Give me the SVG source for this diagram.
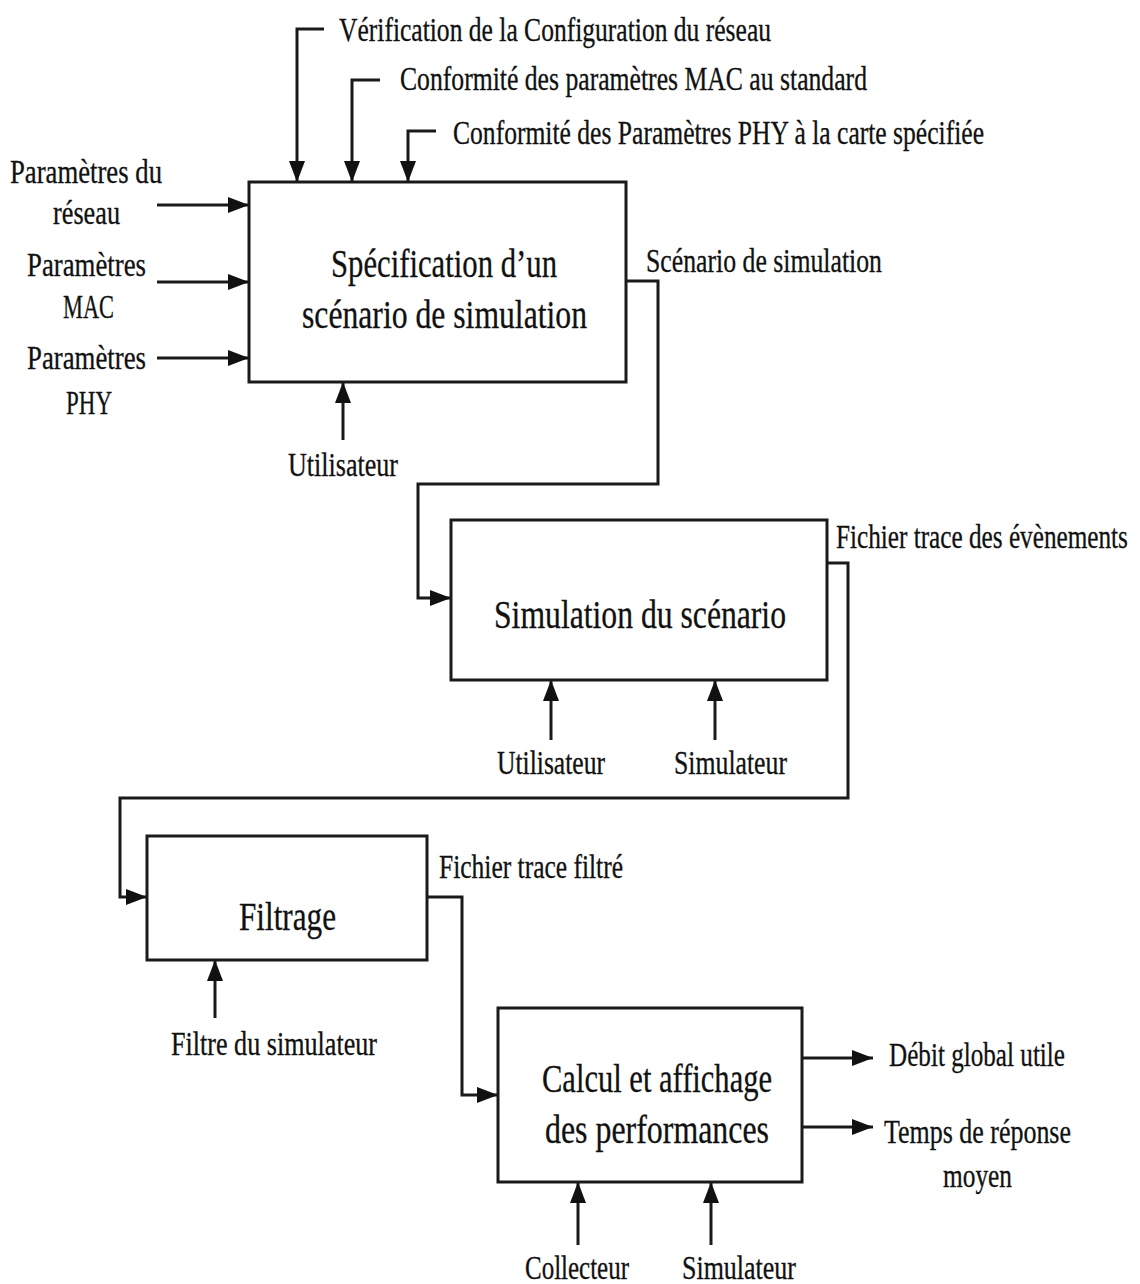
<svg xmlns="http://www.w3.org/2000/svg" width="1140" height="1284" viewBox="0 0 1140 1284">
  <style>
    .box { fill: #ffffff; stroke: #1a1a1a; stroke-width: 3; }
    .wire { fill: none; stroke: #1a1a1a; stroke-width: 3; }
    .lbl { font-family: "Liberation Serif", "DejaVu Serif", serif; font-size: 33px; fill: #111; stroke: #111; stroke-width: 0.3; }
    .ttl { font-family: "Liberation Serif", "DejaVu Serif", serif; font-size: 40px; fill: #111; stroke: #111; stroke-width: 0.3; }
  </style>
  <defs>
    <marker id="arrow" viewBox="-22 -10 24 20" markerWidth="24" markerHeight="20" refX="0" refY="0" orient="auto" markerUnits="userSpaceOnUse" overflow="visible">
      <path d="M-21,-8 L0,0 L-21,8 Z" fill="#111"/>
    </marker>
  </defs>
  <rect width="1140" height="1284" fill="#ffffff"/>

  <!-- connectors -->
  <g id="connectors">
    <!-- controls above the first activity -->
    <path class="wire" d="M324,29 H297 V182" marker-end="url(#arrow)"/>
    <path class="wire" d="M380,80 H352 V182" marker-end="url(#arrow)"/>
    <path class="wire" d="M436,131 H408 V182" marker-end="url(#arrow)"/>
    <!-- inputs on the left -->
    <path class="wire" d="M157,205 H249" marker-end="url(#arrow)"/>
    <path class="wire" d="M157,282 H249" marker-end="url(#arrow)"/>
    <path class="wire" d="M157,358 H249" marker-end="url(#arrow)"/>
    <!-- mechanism of activity 1 -->
    <path class="wire" d="M343,440 V382" marker-end="url(#arrow)"/>
    <!-- scenario output to activity 2 -->
    <path class="wire" d="M626,281 H658 V484 H418 V598 H451" marker-end="url(#arrow)"/>
    <!-- mechanisms of activity 2 -->
    <path class="wire" d="M551,740 V680" marker-end="url(#arrow)"/>
    <path class="wire" d="M715,740 V680" marker-end="url(#arrow)"/>
    <!-- event trace to filtering -->
    <path class="wire" d="M827,563 H848 V798 H120 V897 H147" marker-end="url(#arrow)"/>
    <!-- mechanism of activity 3 -->
    <path class="wire" d="M215,1018 V960" marker-end="url(#arrow)"/>
    <!-- filtered trace to activity 4 -->
    <path class="wire" d="M427,897 H462 V1095 H498" marker-end="url(#arrow)"/>
    <!-- outputs of activity 4 -->
    <path class="wire" d="M802,1058 H873" marker-end="url(#arrow)"/>
    <path class="wire" d="M802,1127 H873" marker-end="url(#arrow)"/>
    <!-- mechanisms of activity 4 -->
    <path class="wire" d="M578,1245 V1182" marker-end="url(#arrow)"/>
    <path class="wire" d="M711,1245 V1182" marker-end="url(#arrow)"/>
  </g>

  <!-- activity 1 -->
  <g id="node-specification">
    <rect class="box" x="249" y="182" width="377" height="200"/>
    <text class="ttl" x="331" y="277" textLength="226" lengthAdjust="spacingAndGlyphs">Spécification d’un</text>
    <text class="ttl" x="302" y="328" textLength="285" lengthAdjust="spacingAndGlyphs">scénario de simulation</text>
  </g>

  <!-- activity 2 -->
  <g id="node-simulation">
    <rect class="box" x="451" y="520" width="376" height="160"/>
    <text class="ttl" x="494" y="628" textLength="292" lengthAdjust="spacingAndGlyphs">Simulation du scénario</text>
  </g>

  <!-- activity 3 -->
  <g id="node-filtrage">
    <rect class="box" x="147" y="836" width="280" height="124"/>
    <text class="ttl" x="239" y="930" textLength="97" lengthAdjust="spacingAndGlyphs">Filtrage</text>
  </g>

  <!-- activity 4 -->
  <g id="node-calcul">
    <rect class="box" x="498" y="1008" width="304" height="174"/>
    <text class="ttl" x="542" y="1092" textLength="230" lengthAdjust="spacingAndGlyphs">Calcul et affichage</text>
    <text class="ttl" x="545" y="1143" textLength="224" lengthAdjust="spacingAndGlyphs">des performances</text>
  </g>

  <!-- labels of flows -->
  <g id="labels">
    <text class="lbl" x="339" y="41" textLength="432" lengthAdjust="spacingAndGlyphs">Vérification de la Configuration du réseau</text>
    <text class="lbl" x="400" y="90" textLength="467" lengthAdjust="spacingAndGlyphs">Conformité des paramètres MAC au standard</text>
    <text class="lbl" x="453" y="144" textLength="531" lengthAdjust="spacingAndGlyphs">Conformité des Paramètres PHY à la carte spécifiée</text>

    <text class="lbl" x="10" y="183" textLength="152" lengthAdjust="spacingAndGlyphs">Paramètres du</text>
    <text class="lbl" x="53" y="224" textLength="67" lengthAdjust="spacingAndGlyphs">réseau</text>
    <text class="lbl" x="27" y="276" textLength="119" lengthAdjust="spacingAndGlyphs">Paramètres</text>
    <text class="lbl" x="63" y="318" textLength="51" lengthAdjust="spacingAndGlyphs">MAC</text>
    <text class="lbl" x="27" y="369" textLength="119" lengthAdjust="spacingAndGlyphs">Paramètres</text>
    <text class="lbl" x="66" y="414" textLength="46" lengthAdjust="spacingAndGlyphs">PHY</text>

    <text class="lbl" x="288" y="476" textLength="110" lengthAdjust="spacingAndGlyphs">Utilisateur</text>
    <text class="lbl" x="646" y="272" textLength="236" lengthAdjust="spacingAndGlyphs">Scénario de simulation</text>

    <text class="lbl" transform="translate(836,548) scale(0.7,1)" x="0" y="0" textLength="417" lengthAdjust="spacingAndGlyphs">Fichier trace des évènements</text>
    <text class="lbl" x="497" y="774" textLength="108" lengthAdjust="spacingAndGlyphs">Utilisateur</text>
    <text class="lbl" x="674" y="774" textLength="113" lengthAdjust="spacingAndGlyphs">Simulateur</text>

    <text class="lbl" x="439" y="878" textLength="184" lengthAdjust="spacingAndGlyphs">Fichier trace filtré</text>
    <text class="lbl" x="171" y="1055" textLength="206" lengthAdjust="spacingAndGlyphs">Filtre du simulateur</text>

    <text class="lbl" x="889" y="1066" textLength="176" lengthAdjust="spacingAndGlyphs">Débit global utile</text>
    <text class="lbl" x="884" y="1143" textLength="187" lengthAdjust="spacingAndGlyphs">Temps de réponse</text>
    <text class="lbl" x="943" y="1187" textLength="69" lengthAdjust="spacingAndGlyphs">moyen</text>
    <text class="lbl" x="525" y="1279" textLength="104" lengthAdjust="spacingAndGlyphs">Collecteur</text>
    <text class="lbl" x="682" y="1279" textLength="114" lengthAdjust="spacingAndGlyphs">Simulateur</text>
  </g>
</svg>
